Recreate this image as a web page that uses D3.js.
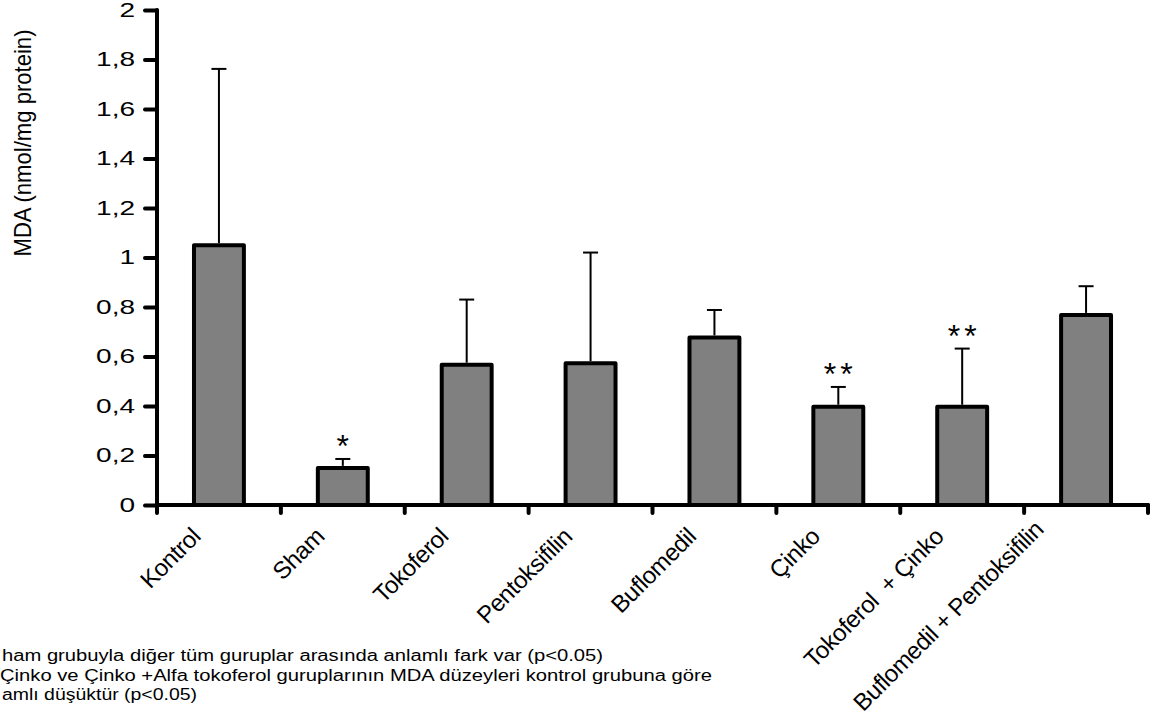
<!DOCTYPE html>
<html>
<head>
<meta charset="utf-8">
<script src="https://cdn.jsdelivr.net/npm/d3@7"></script>
<style>
  html, body { margin: 0; padding: 0; background: #fff; }
  svg { display: block; }
  text { font-family: "Liberation Sans", Arial, sans-serif; fill: #000; }
</style>
</head>
<body>
<svg id="chart" width="1165" height="721"></svg>
<script>
// Group names, mean MDA and upper error (mean + SD)
const categories = ["Kontrol", "Sham", "Tokoferol", "Pentoksifilin", "Buflomedil", "Çinko", "Tokoferol  + Çinko", "Buflomedil + Pentoksifilin"];
const meanValues = [1.05, 0.15, 0.567, 0.573, 0.677, 0.397, 0.397, 0.768];
const upperValues = [1.762, 0.186, 0.83, 1.02, 0.788, 0.477, 0.632, 0.884];
const significance = ["", "*", "", "", "", "**", "**", ""];
const yTicks = [0, 0.2, 0.4, 0.6, 0.8, 1, 1.2, 1.4, 1.6, 1.8, 2];
const yTitle = "MDA (nmol/mg protein)";
const notes = [
  "ham grubuyla diğer tüm guruplar arasında anlamlı fark var (p<0.05)",
  "Çinko ve Çinko +Alfa tokoferol guruplarının MDA düzeyleri kontrol grubuna göre",
  "amlı düşüktür (p<0.05)"
];
const noteWidths = [601, 712, 195];

const svg = d3.select("#chart");

const y = d3.scaleLinear().domain([0, 2]).range([505, 10]);
const x = d3.scaleBand().domain(categories).range([157, 1148])
  .paddingInner(0.597).paddingOuter(0.2985);

const fmt = d => String(d).replace(".", ",");

// widen a text element horizontally by factor k
function widen(sel, k) {
  sel.each(function () {
    const w = this.getComputedTextLength();
    d3.select(this).attr("textLength", w * k).attr("lengthAdjust", "spacingAndGlyphs");
  });
}

// bars
svg.append("g").selectAll("rect").data(categories).join("rect")
  .attr("x", d => x(d))
  .attr("y", (d, i) => y(meanValues[i]))
  .attr("width", x.bandwidth())
  .attr("height", (d, i) => y(0) - y(meanValues[i]))
  .attr("fill", "#808080")
  .attr("stroke", "#000")
  .attr("stroke-width", 4)
  .attr("stroke-linejoin", "round");

// error bars (upper only)
const eb = svg.append("g").attr("stroke", "#000").attr("stroke-width", 2);
categories.forEach((c, i) => {
  const cx = x(c) + x.bandwidth() / 2;
  eb.append("line").attr("x1", cx).attr("x2", cx)
    .attr("y1", y(meanValues[i]) - 2).attr("y2", y(upperValues[i]));
  eb.append("line").attr("x1", cx - 7.5).attr("x2", cx + 7.5)
    .attr("y1", y(upperValues[i])).attr("y2", y(upperValues[i]));
});

// significance marks
svg.append("g").selectAll("text").data(categories).join("text")
  .attr("x", d => x(d) + x.bandwidth() / 2 + 2)
  .attr("y", (d, i) => y(upperValues[i]) - 2)
  .attr("text-anchor", "middle")
  .style("font-size", "32px")
  .style("letter-spacing", "4px")
  .text((d, i) => significance[i]);

// y axis
const yAxis = svg.append("g").attr("transform", "translate(157,0)")
  .call(d3.axisLeft(y).tickValues(yTicks).tickFormat(fmt).tickSize(12).tickPadding(10));
yAxis.select(".domain").remove();
yAxis.selectAll(".tick line").attr("stroke-width", 4).attr("stroke-linecap", "round");
yAxis.selectAll(".tick text").style("font-size", "20px")
  .style("font-family", "Liberation Sans, Arial, sans-serif").call(widen, 1.4);
svg.append("line").attr("x1", 157).attr("x2", 157).attr("y1", y(2)).attr("y2", y(0))
  .attr("stroke", "#000").attr("stroke-width", 4).attr("stroke-linecap", "round");

// x axis with ticks at group boundaries
const step = x.step();
const x0 = x.range()[0];
const bounds = d3.range(categories.length + 1).map(i => x0 + i * step);
svg.append("line").attr("x1", 157).attr("x2", bounds[bounds.length - 1])
  .attr("y1", y(0)).attr("y2", y(0))
  .attr("stroke", "#000").attr("stroke-width", 4).attr("stroke-linecap", "round");
svg.append("g").selectAll("line").data(bounds).join("line")
  .attr("x1", d => d).attr("x2", d => d)
  .attr("y1", y(0)).attr("y2", y(0) + 8)
  .attr("stroke", "#000").attr("stroke-width", 4).attr("stroke-linecap", "round");

// category labels; a label that would run past labelRight is pulled back and up
const labelRight = 1045;
function labelPos(d) {
  const want = x(d) + x.bandwidth() / 2 - 17;
  const ax = Math.min(want, labelRight);
  const ay = y(0) + 33 - (want - ax) * 0.3;
  return `translate(${ax},${ay}) rotate(-45)`;
}
svg.append("g").selectAll("text").data(categories).join("text")
  .attr("transform", labelPos)
  .attr("text-anchor", "end")
  .style("font-size", "24px")
  .style("letter-spacing", "-0.4px")
  .style("white-space", "pre")
  .text(d => d);

// y title
svg.append("text")
  .attr("transform", "translate(31,143) rotate(-90)")
  .attr("text-anchor", "middle")
  .attr("textLength", 227)
  .attr("lengthAdjust", "spacingAndGlyphs")
  .style("font-size", "24px")
  .text(yTitle);

// footnotes
svg.append("g").selectAll("text").data(notes).join("text")
  .attr("x", (d, i) => i === 1 ? 0 : 2)
  .attr("y", (d, i) => [661, 681, 700][i])
  .attr("textLength", (d, i) => noteWidths[i])
  .attr("lengthAdjust", "spacingAndGlyphs")
  .style("font-size", "16px")
  .text(d => d);
</script>
</body>
</html>
